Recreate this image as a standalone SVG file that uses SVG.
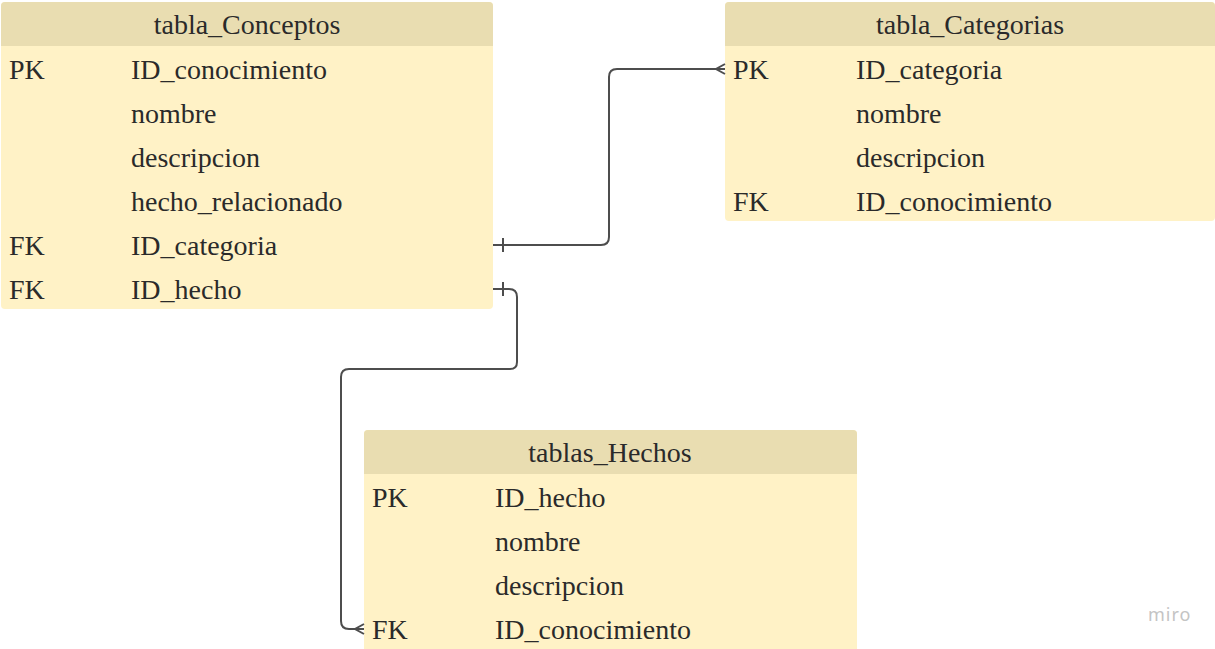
<svg xmlns="http://www.w3.org/2000/svg" width="1215" height="649" viewBox="0 0 1215 649">
  <style>
    .hdr { fill: #e9ddb1; }
    .body { fill: #fff2c6; }
    text { font-family: "Liberation Serif", "Times New Roman", serif; font-size: 28px; fill: #2a2a2a; }
    .title { text-anchor: middle; }
    .link { fill: none; stroke: #4d4d4d; stroke-width: 2; }
    .logo { font-family: "Noto Sans", "DejaVu Sans", sans-serif; font-size: 18px; fill: #c4c4c4; letter-spacing: 1px; }
  </style>

  <rect width="1215" height="649" fill="#ffffff"/>

  <!-- Conceptos table -->
  <g id="tabla_Conceptos">
    <rect class="body" x="1" y="2" width="492" height="307" rx="4"/>
    <rect class="hdr" x="1" y="2" width="492" height="44" rx="4"/>
    <rect class="hdr" x="1" y="40" width="492" height="6"/>
    <text class="title" x="247" y="34">tabla_Conceptos</text>
    <text x="9" y="79">PK</text><text x="131" y="79">ID_conocimiento</text>
    <text x="131" y="123">nombre</text>
    <text x="131" y="167">descripcion</text>
    <text x="131" y="211">hecho_relacionado</text>
    <text x="9" y="255">FK</text><text x="131" y="255">ID_categoria</text>
    <text x="9" y="299">FK</text><text x="131" y="299">ID_hecho</text>
  </g>

  <!-- Categorias table -->
  <g id="tabla_Categorias">
    <rect class="body" x="725" y="2" width="490" height="219" rx="4"/>
    <rect class="hdr" x="725" y="2" width="490" height="44" rx="4"/>
    <rect class="hdr" x="725" y="40" width="490" height="6"/>
    <text class="title" x="970" y="34">tabla_Categorias</text>
    <text x="733" y="79">PK</text><text x="856" y="79">ID_categoria</text>
    <text x="856" y="123">nombre</text>
    <text x="856" y="167">descripcion</text>
    <text x="733" y="211">FK</text><text x="856" y="211">ID_conocimiento</text>
  </g>

  <!-- Hechos table -->
  <g id="tablas_Hechos">
    <rect class="body" x="364" y="430" width="493" height="225" rx="4"/>
    <rect class="hdr" x="364" y="430" width="493" height="44" rx="4"/>
    <rect class="hdr" x="364" y="468" width="493" height="6"/>
    <text class="title" x="610" y="462">tablas_Hechos</text>
    <text x="372" y="507">PK</text><text x="495" y="507">ID_hecho</text>
    <text x="495" y="551">nombre</text>
    <text x="495" y="595">descripcion</text>
    <text x="372" y="639">FK</text><text x="495" y="639">ID_conocimiento</text>
  </g>

  <!-- relationships -->
  <g id="connectors">
    <!-- Conceptos.ID_categoria -> Categorias.ID_categoria -->
    <path class="link" d="M493 245 H601 Q609 245 609 237 V77 Q609 69 617 69 H725"/>
    <path class="link" d="M503 238 V252"/>
    <path class="link" d="M725 64 L716 69 L725 74"/>
    <!-- Conceptos.ID_hecho -> Hechos.ID_conocimiento -->
    <path class="link" d="M493 289 H509 Q517 289 517 297 V362 Q517 369 510 369 H349 Q341 369 341 377 V621 Q341 629 349 629 H364"/>
    <path class="link" d="M503 282 V296"/>
    <path class="link" d="M364 624 L355 629 L364 634"/>
  </g>

  <text class="logo" x="1148" y="621">miro</text>
</svg>
